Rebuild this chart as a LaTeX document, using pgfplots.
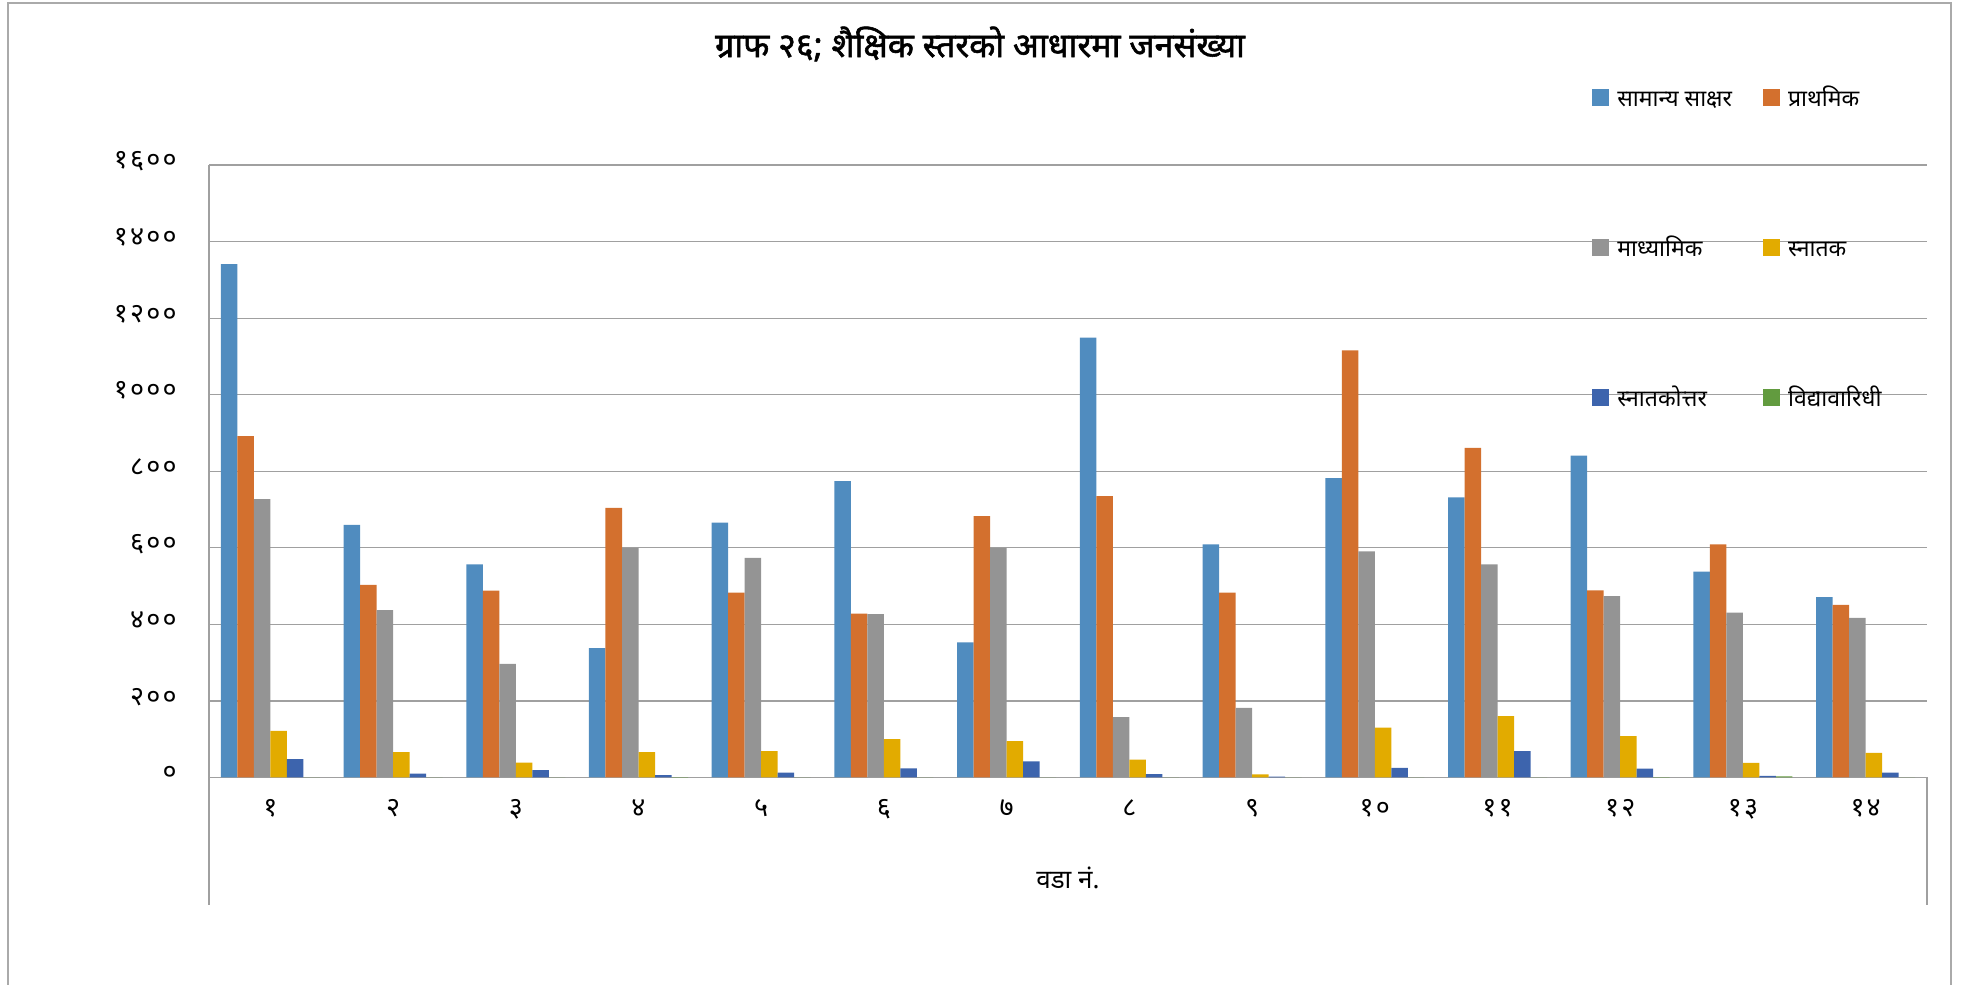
\documentclass[border=0pt]{standalone}
\usepackage{fontspec}
\usepackage{pgfplots}
\pgfplotsset{compat=1.18}
\usepackage{pgfplotstable}
\newfontfamily\dev[Script=Devanagari]{Noto Sans}
\newfontfamily\devb[Script=Devanagari, FakeBold=1.6]{Noto Sans}
\newfontfamily\devnum[Script=Devanagari, LetterSpace=8]{Noto Sans}
\definecolor{c1}{HTML}{508CBF}
\definecolor{c2}{HTML}{D3702E}
\definecolor{c3}{HTML}{949494}
\definecolor{c4}{HTML}{E2AB00}
\definecolor{c5}{HTML}{3D64AD}
\definecolor{c6}{HTML}{629B3F}
\definecolor{gridgray}{RGB}{160,160,160}
\definecolor{bordergray}{RGB}{170,170,170}
\pgfplotstableread{
w s1 s2 s3 s4 s5 s6
1 1341 892 727 122 48 0
2 660 503 437 66 10 0
3 557 488 297 39 19 0
4 338 704 600 66 6 1
5 666 483 574 69 13 0
6 774 428 427 100 24 0
7 353 683 600 95 42 0
8 1149 735 158 47 9 0
9 609 483 182 8 2 0
10 782 1116 591 130 25 0
11 732 861 557 160 69 0
12 841 489 474 108 23 1
13 538 609 431 38 4 3
14 471 451 417 64 13 0
}\datatable
\begin{document}
\begin{tikzpicture}
\path[use as bounding box] (0pt,0pt) rectangle (982.5pt,492.5pt);
\draw[bordergray, line width=1pt] (4pt,-5pt) -- (4pt,491pt) -- (975.5pt,491pt) -- (975.5pt,-5pt);
\node[font=\devb\fontsize{17}{20}\selectfont] at (490pt,470.5pt) {ग्राफ २६; शैक्षिक स्तरको आधारमा जनसंख्या};
\begin{axis}[
  at={(104.5pt,103.75pt)}, anchor=south west,
  scale only axis, width=859pt, height=306.25pt,
  ybar=0pt, bar width=0.1345,
  xmin=0.5, xmax=14.5, ymin=0, ymax=1600,
  xtick={1,...,14},
  xticklabels={१,२,३,४,५,६,७,८,९,१०,११,१२,१३,१४},
  ytick={0,200,...,1600},
  yticklabels={०,२००,४००,६००,८००,१०००,१२००,१४००,१६००},
  ymajorgrids, major grid style={gridgray, line width=0.6pt},
  axis x line*=bottom, axis y line*=left,
  axis line style={gridgray, line width=0.6pt, -},
  major tick length=0pt,
  tick label style={font=\devnum\fontsize{13.5}{15}\selectfont},
  yticklabel style={anchor=east, inner sep=0pt, xshift=-16pt, yshift=2pt},
  xticklabel style={anchor=north, inner sep=0pt, yshift=-11pt},
  xlabel={वडा नं.},
  xlabel style={font=\dev\fontsize{13}{15}\selectfont, at={(axis description cs:0.5,0)}, anchor=center, yshift=-50pt},
  clip=false,
  legend columns=2,
  legend style={at={(0.805,1.125)}, anchor=north west, draw=none, fill=none, inner sep=0pt,
    font=\dev\fontsize{11.5}{13}\selectfont, row sep=63pt,
    nodes={inner sep=0pt, text height=9pt, text depth=3pt},
    /tikz/every odd column/.append style={column sep=4pt},
    /tikz/every even column/.append style={column sep=15.5pt}},
  legend cell align=left,
  legend image code/.code={\fill[#1] (0pt,-2.5pt) rectangle (8.5pt,6pt);},
  every axis plot/.append style={draw=none},
]
\addplot[fill=c1] table[x=w,y=s1]{\datatable};
\addplot[fill=c2] table[x=w,y=s2]{\datatable};
\addplot[fill=c3] table[x=w,y=s3]{\datatable};
\addplot[fill=c4] table[x=w,y=s4]{\datatable};
\addplot[fill=c5] table[x=w,y=s5]{\datatable};
\addplot[fill=c6] table[x=w,y=s6]{\datatable};
\legend{सामान्य साक्षर,प्राथमिक,माध्यामिक,स्नातक,स्नातकोत्तर,विद्यावारिधी}
\draw[gridgray, line width=0.6pt] (axis description cs:0,0) -- ++(0pt,-63.75pt);
\draw[gridgray, line width=0.6pt] (axis description cs:1,0) -- ++(0pt,-63.75pt);
\end{axis}
\end{tikzpicture}
\end{document}
